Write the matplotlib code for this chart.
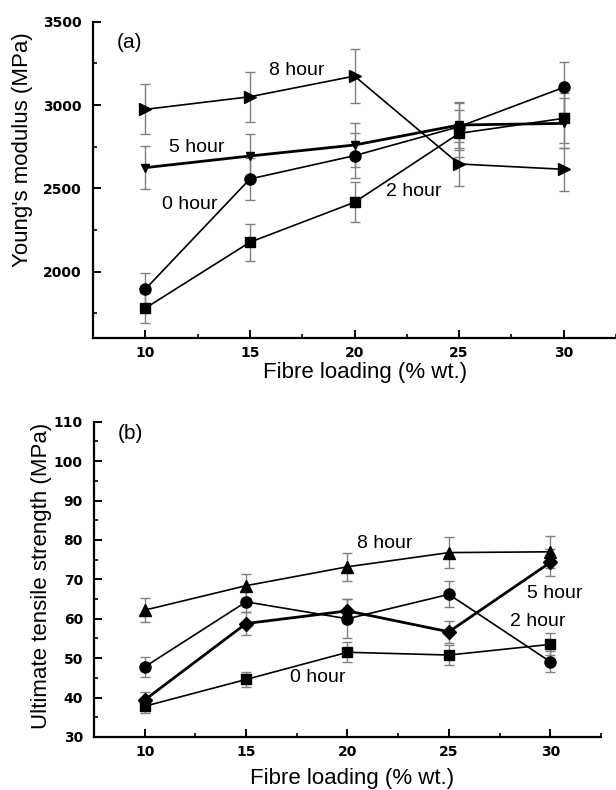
import matplotlib
matplotlib.use("Agg")
import matplotlib.pyplot as plt
from matplotlib.ticker import MultipleLocator

plt.rcParams["font.family"] = ["Liberation Sans", "DejaVu Sans"]

loading = [10, 15, 20, 25, 30]

# (a) Young's modulus, MPa
ym_circle = [1894, 2556, 2696, 2870, 3106]
ym_circle_err = [95, 125, 135, 140, 155]
ym_square = [1780, 2176, 2416, 2830, 2920]
ym_square_err = [90, 110, 120, 140, 150]
ym_down = [2624, 2694, 2760, 2880, 2890]
ym_down_err = [128, 130, 135, 140, 150]
ym_right = [2974, 3050, 3174, 2646, 2614]
ym_right_err = [150, 150, 160, 130, 130]

# (b) ultimate tensile strength, MPa
uts_triangle = [62.2, 68.4, 73.2, 76.8, 77.0]
uts_triangle_err = [3.0, 3.0, 3.5, 4.0, 4.0]
uts_circle = [47.8, 64.3, 60.0, 66.2, 49.1]
uts_circle_err = [2.5, 2.7, 5.0, 3.3, 2.7]
uts_diamond = [39.4, 58.8, 62.0, 56.7, 74.3]
uts_diamond_err = [2.0, 2.8, 3.0, 2.8, 3.5]
uts_square = [37.8, 44.6, 51.5, 50.8, 53.5]
uts_square_err = [1.8, 2.0, 2.5, 2.5, 2.8]

labels_a = [("8 hour", 17.26, 3210), ("5 hour", 12.45, 2742),
            ("0 hour", 12.12, 2400), ("2 hour", 22.83, 2478)]
labels_b = [("8 hour", 21.83, 79.2), ("5 hour", 30.2, 66.3),
            ("2 hour", 29.4, 59.2), ("0 hour", 18.53, 45.2)]

ERR = "#808080"


def series(ax, y, err, marker, ms, lw=1.2):
    ax.errorbar(loading, y, yerr=err, fmt="none", ecolor=ERR, elinewidth=1.0,
                capsize=3.5, capthick=1.0, zorder=2)
    ax.plot(loading, y, color="black", lw=lw, marker=marker, ms=ms,
            mfc="black", mec="black", zorder=3)


def style(ax, ylab):
    for s in ("top", "right"):
        ax.spines[s].set_visible(False)
    for s in ("left", "bottom"):
        ax.spines[s].set_linewidth(1.6)
    ax.tick_params(which="major", direction="in", length=6, width=1.4)
    ax.tick_params(which="minor", direction="in", length=3, width=1.2)
    ax.tick_params(axis="y", which="major", pad=8)
    ax.tick_params(axis="x", which="major", pad=6)
    ax.set_xlim(7.5, 32.5)
    ax.xaxis.set_major_locator(MultipleLocator(5))
    ax.xaxis.set_minor_locator(MultipleLocator(2.5))
    for t in ax.get_xticklabels() + ax.get_yticklabels():
        t.set_fontfamily("DejaVu Sans")
        t.set_fontweight("bold")
        t.set_fontsize(10)
    ax.set_xlabel("Fibre loading (% wt.)", fontsize=16)
    ax.set_ylabel(ylab, fontsize=16)


fig = plt.figure(figsize=(6.16, 7.90), dpi=100)
ax1 = fig.add_axes([0.151, 0.572, 0.849, 0.4004])
ax2 = fig.add_axes([0.1526, 0.0671, 0.823, 0.399])

series(ax1, ym_right, ym_right_err, ">", 9)
series(ax1, ym_down, ym_down_err, "v", 6, lw=2.0)
series(ax1, ym_circle, ym_circle_err, "o", 8)
series(ax1, ym_square, ym_square_err, "s", 7)
ax1.set_ylim(1600, 3500)
ax1.yaxis.set_major_locator(MultipleLocator(500))
ax1.yaxis.set_minor_locator(MultipleLocator(250))
style(ax1, "Young's modulus (MPa)")
ax1.yaxis.set_label_coords(-0.115, 0.595)
ax1.xaxis.set_label_coords(0.52, -0.076)
ax1.text(9.26, 3378, "(a)", fontsize=15, ha="center", va="center")
for txt, x, y in labels_a:
    ax1.text(x, y, txt, fontsize=14, ha="center", va="center")

series(ax2, uts_triangle, uts_triangle_err, "^", 9)
series(ax2, uts_circle, uts_circle_err, "o", 8)
series(ax2, uts_diamond, uts_diamond_err, "D", 7, lw=2.0)
series(ax2, uts_square, uts_square_err, "s", 7)
ax2.set_ylim(30, 110)
ax2.yaxis.set_major_locator(MultipleLocator(10))
ax2.yaxis.set_minor_locator(MultipleLocator(5))
style(ax2, "Ultimate tensile strength (MPa)")
ax2.yaxis.set_label_coords(-0.083, 0.51)
ax2.xaxis.set_label_coords(0.51, -0.098)
ax2.text(9.3, 107.1, "(b)", fontsize=15, ha="center", va="center")
for txt, x, y in labels_b:
    ax2.text(x, y, txt, fontsize=14, ha="center", va="center")

fig.savefig("out.png", dpi=100)
